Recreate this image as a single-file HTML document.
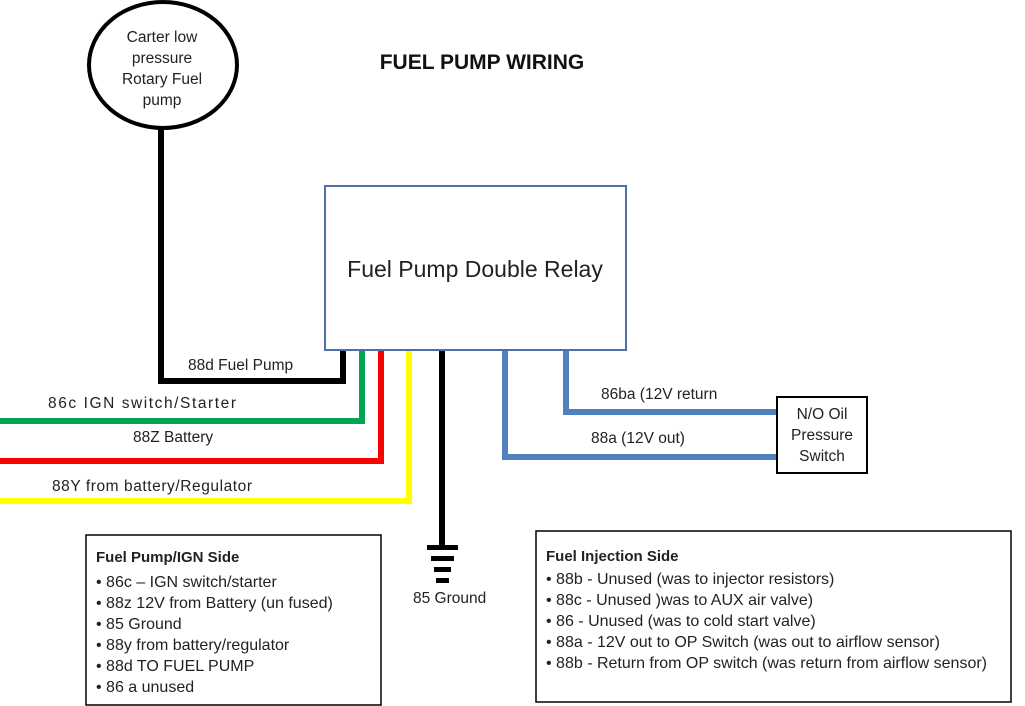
<!DOCTYPE html>
<html><head><meta charset="utf-8"><style>
html,body{margin:0;padding:0;background:#fff;}
svg{display:block;}
text{font-family:"Liberation Sans",sans-serif;fill:#222;}
</style></head><body>
<svg width="1025" height="706" viewBox="0 0 1025 706">
<rect width="1025" height="706" fill="#fff"/>
<ellipse cx="163" cy="65" rx="74" ry="63" fill="#fff" stroke="#000" stroke-width="4"/>
<g font-size="15.5" text-anchor="middle">
<text x="162" y="42">Carter  low</text>
<text x="162" y="63">pressure</text>
<text x="162" y="84">Rotary Fuel</text>
<text x="162" y="105">pump</text>
</g>
<text x="482" y="69" font-size="21" font-weight="bold" text-anchor="middle" style="fill:#111">FUEL PUMP WIRING</text>
<g fill="none" stroke-width="6" stroke-linejoin="miter">
<polyline points="161,128 161,381 343,381 343,350" stroke="#000"/>
<polyline points="0,421 362,421 362,350" stroke="#00a651"/>
<polyline points="0,461 381,461 381,350" stroke="#ff0000"/>
<polyline points="0,501 409,501 409,350" stroke="#ffff00"/>
<line x1="442" y1="350" x2="442" y2="548" stroke="#000"/>
<polyline points="505,350 505,457 778,457" stroke="#4f81bd"/>
<polyline points="566,350 566,412 778,412" stroke="#4f81bd"/>
</g>
<rect x="427" y="545" width="31" height="5" fill="#000"/>
<rect x="431" y="556" width="23" height="5" fill="#000"/>
<rect x="434" y="567" width="17" height="5" fill="#000"/>
<rect x="436" y="578" width="13" height="5" fill="#000"/>
<text x="413" y="603" font-size="15.5">85 Ground</text>
<rect x="325" y="186" width="301" height="164" fill="#fff" stroke="#4f6fa8" stroke-width="2"/>
<text x="475" y="277" font-size="23" text-anchor="middle">Fuel Pump Double Relay</text>
<g font-size="15.5">
<text x="188" y="370">88d Fuel Pump</text>
<text x="48" y="408" textLength="188" lengthAdjust="spacing">86c IGN switch/Starter</text>
<text x="133" y="442">88Z Battery</text>
<text x="52" y="491" textLength="200" lengthAdjust="spacing">88Y  from battery/Regulator</text>
<text x="601" y="399">86ba (12V return</text>
<text x="591" y="443">88a (12V out)</text>
</g>
<rect x="777" y="397" width="90" height="76" fill="#fff" stroke="#000" stroke-width="2"/>
<g font-size="15.5" text-anchor="middle">
<text x="822" y="419">N/O Oil</text>
<text x="822" y="440">Pressure</text>
<text x="822" y="461">Switch</text>
</g>
<rect x="86" y="535" width="295" height="170" fill="#fff" stroke="#000" stroke-width="1.5"/>
<text x="96" y="562" font-size="15" font-weight="bold">Fuel Pump/IGN Side</text>
<g font-size="16">
<text x="96" y="587">• 86c – IGN switch/starter</text>
<text x="96" y="608">• 88z 12V from Battery (un fused)</text>
<text x="96" y="629">• 85 Ground</text>
<text x="96" y="650">• 88y from battery/regulator</text>
<text x="96" y="671">• 88d TO FUEL PUMP</text>
<text x="96" y="692">• 86 a unused</text>
</g>
<rect x="536" y="531" width="475" height="171" fill="#fff" stroke="#000" stroke-width="1.5"/>
<text x="546" y="561" font-size="15" font-weight="bold">Fuel Injection Side</text>
<g font-size="16">
<text x="546" y="584">• 88b  - Unused (was to injector resistors)</text>
<text x="546" y="605">• 88c - Unused )was to AUX air valve)</text>
<text x="546" y="626">• 86  - Unused (was to cold start valve)</text>
<text x="546" y="647">• 88a - 12V out to OP Switch (was out to airflow sensor)</text>
<text x="546" y="668">• 88b - Return from OP switch (was return from airflow sensor)</text>
</g>
</svg>
</body></html>
